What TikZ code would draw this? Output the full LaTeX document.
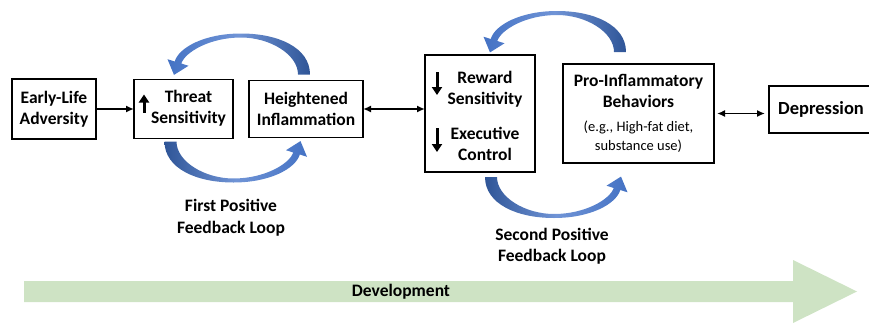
\documentclass[tikz,border=0pt]{standalone}
\usepackage{fontspec}
\setmainfont{Carlito}
\usetikzlibrary{positioning,arrows.meta}
\definecolor{fbdark}{RGB}{47,85,151}
\definecolor{fbmid}{RGB}{68,114,196}
\definecolor{fblight}{RGB}{112,148,214}
\definecolor{devgreen}{RGB}{206,227,196}
\newcommand{\smtext}{\fontsize{14.5}{19}\selectfont\mdseries}
% curved feedback arrow, origin at the middle of its tail; #1/#2 = left/right shade
\tikzset{pics/fbloop/.style 2 args={code={
  \shade[left color=#1,right color=#2,middle color=fblight]
    (6,0) .. controls (6,-27) and (-26,-41) .. (-63,-41)
    .. controls (-99,-41) and (-125,-27.3) .. (-129.3,-13)
    -- (-136.5,-15.3) -- (-130,0.4) -- (-115.5,-8.7) -- (-122.7,-11)
    .. controls (-119,-22.4) and (-94,-37) .. (-63,-37)
    .. controls (-34,-37) and (-6,-20) .. (-6,0) -- cycle;
}}}
\begin{document}
\begin{tikzpicture}[x=1pt,y=-1pt,b/.style={draw,line width=1.8pt,outer sep=0pt,align=center,inner sep=2pt,font=\bfseries\fontsize{17.5}{20.5}\selectfont},lbl/.style={align=center,font=\bfseries\fontsize{17.5}{21.5}\selectfont},a/.style={-{Latex[length=8pt,width=7pt]},line width=1.6pt},aa/.style={{Latex[length=8pt,width=7pt]}-{Latex[length=8pt,width=7pt]},line width=1.6pt},g/.style={-{Triangle[length=8pt,width=10pt]},line width=3pt}]
\useasboundingbox (0,0) rectangle (869,324);
% development axis
\fill[devgreen] (24,281) -- (793,281) -- (793,260) -- (857,291.5) -- (793,323) -- (793,302) -- (24,302) -- cycle;
\node[lbl](dev) at (401,292) {Development};
\node[b,minimum width=84pt,minimum height=60pt](early) at (54,109) {Early-Life\\Adversity};
\node[b,minimum width=99pt,minimum height=59pt,right=38pt of early](threat){\hspace*{10pt}\begin{tabular}{@{}c@{}}Threat\\Sensitivity\end{tabular}};
\node[b,minimum width=114pt,minimum height=57pt,right=16pt of threat](heat){Heightened\\Inflammation};
\node[b,minimum width=110pt,minimum height=117pt,right=62pt of heat,yshift=-4.5pt](reward){\hspace*{10pt}\raisebox{-4.5pt}[\height][\depth]{\begin{tabular}{@{}c@{}}Reward\\Sensitivity\\[15pt]Executive\\Control\end{tabular}}};
\node[b,minimum width=151pt,minimum height=99pt,right=28pt of reward](pro){Pro-Inflammatory\\Behaviors\\[4pt]{\smtext (e.g., High-fat diet,}\\[-1.5pt]{\smtext substance use)}};
\node[b,minimum width=104pt,minimum height=47pt,right=55pt of pro,yshift=4pt,font=\bfseries\fontsize{18.5}{22}\selectfont](depr){Depression};
\draw[g]([shift={(10,3.5)}]threat.west)--([shift={(10,-14.5)}]threat.west);
\draw[g]([shift={(12,17)}]reward.north west)--([shift={(12,40)}]reward.north west);
\draw[g]([shift={(12,73)}]reward.north west)--([shift={(12,97)}]reward.north west);
\draw[a](early)--(threat);\draw[aa](heat.east)--(heat.east-|reward.west);\draw[aa,shorten <=3pt,shorten >=4pt](pro.east)--(pro.east-|depr.west);
% feedback loops
\pic at ([shift={(-2,-6)}]heat.north) {fbloop={fbmid}{fbdark}};
\pic[rotate=180] at ([shift={(-13,3)}]threat.south) {fbloop={fbdark}{fbmid}};
\pic at ([shift={(-18.5,-12)}]pro.north) {fbloop={fbmid}{fbdark}};
\pic[rotate=180] at ([shift={(11,5)}]reward.south) {fbloop={fbdark}{fbmid}};
\node[lbl](loopa) at (231,217.5) {First Positive\\Feedback Loop};
\node[lbl](loopb) at (552,246) {Second Positive\\Feedback Loop};
\end{tikzpicture}
\end{document}
